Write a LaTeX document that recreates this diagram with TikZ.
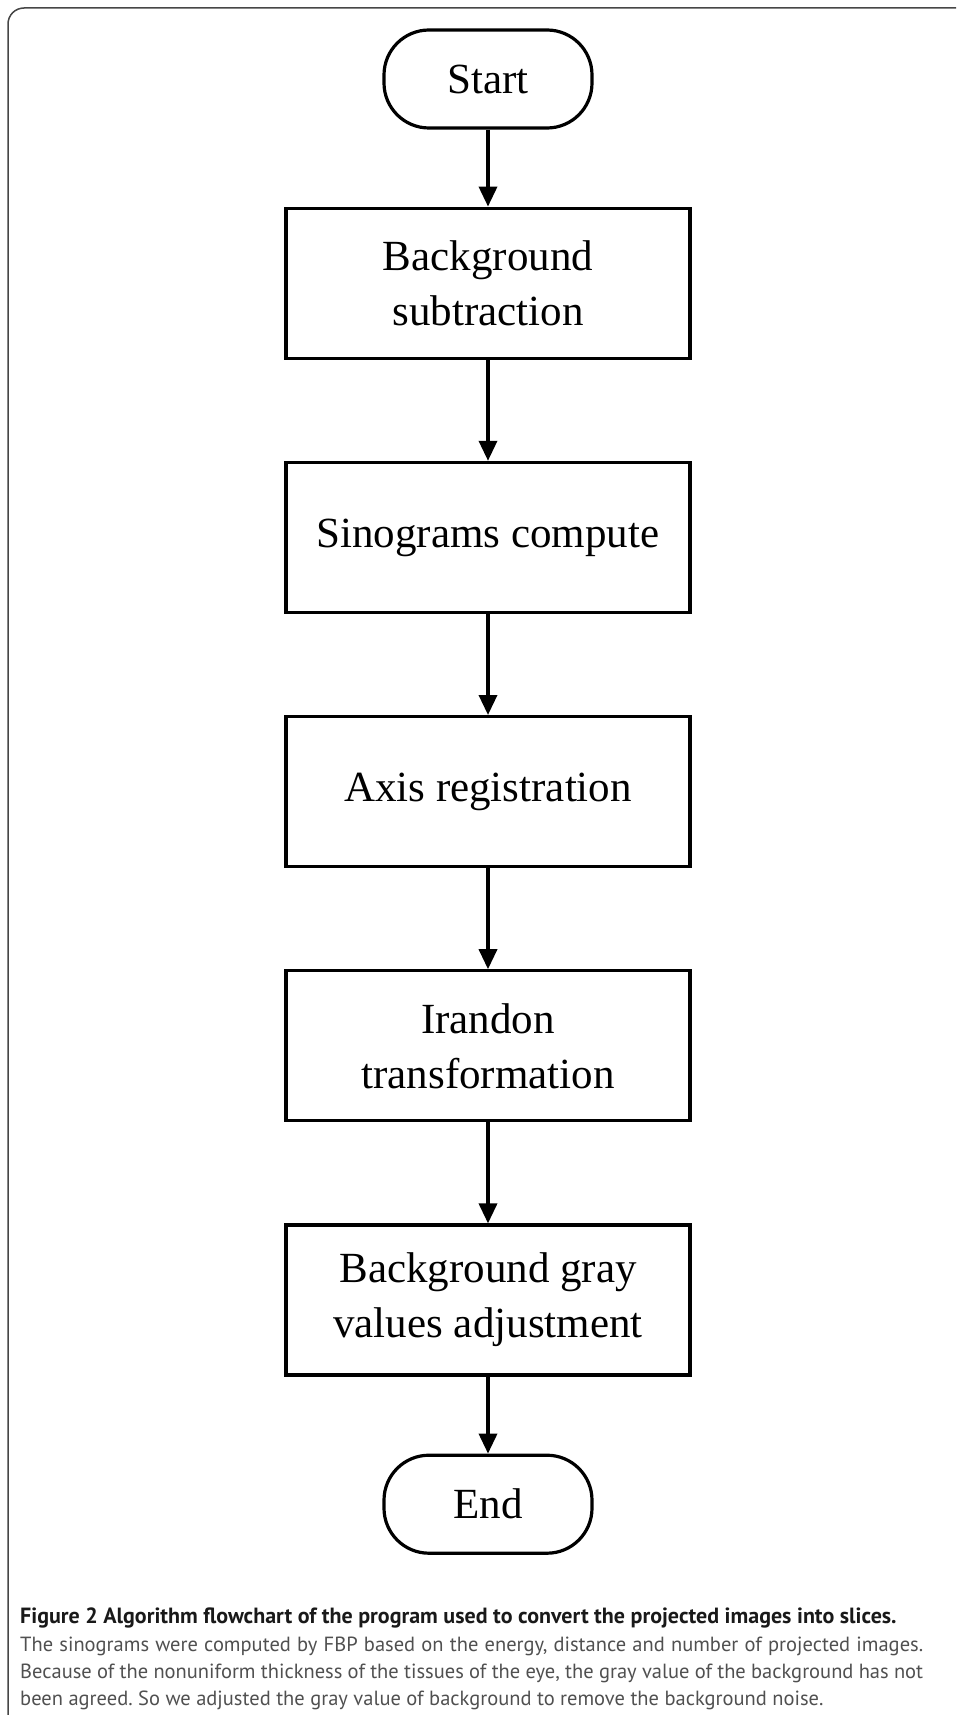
\documentclass[tikz,border=0pt]{standalone}
\usepackage{fontspec}
\setmainfont{Liberation Serif}
\newfontfamily\captionfont{PT Sans}
\usetikzlibrary{arrows.meta, positioning}
\frenchspacing
\definecolor{framegray}{RGB}{70,70,70}
\definecolor{captiongray}{RGB}{80,80,80}
\tikzset{
    startstop/.style={
        rectangle,
        rounded corners=45pt,
        minimum width=208pt,
        minimum height=98pt,
        align=center,
        draw=black,
        line width=3.2pt,
        font=\fontsize{43}{55}\selectfont
    },
    process/.style={
        rectangle,
        minimum width=404pt,
        minimum height=150pt,
        align=center,
        draw=black,
        line width=3.2pt,
        font=\fontsize{43}{55}\selectfont
    },
    arrow/.style={
        line width=3.5pt,
        -{Triangle[length=20pt,width=18pt]}
    }
}
\begin{document}
\begin{tikzpicture}[
    x=1pt, y=-1pt,
    captionhead/.style={anchor=base west, inner sep=0pt, text=black!90,
        font=\captionfont\bfseries\fontsize{22}{27}\selectfont},
    captionbody/.style={anchor=base west, inner sep=0pt, text=captiongray,
        font=\captionfont\fontsize{20.5}{27}\selectfont}
]
\useasboundingbox (0,0) rectangle (956,1715);
% open frame, top and left side only
\draw[framegray, line width=1.5pt, rounded corners=16pt] (956,8) -- (8,8) -- (8,1715);

\node (start) [startstop] at (488,79) {Start};
\node (bgsub) [process, below=77pt of start] {Background\\subtraction};
\node (sino) [process, below=101pt of bgsub] {Sinograms compute};
\node (axis) [process, below=101pt of sino] {Axis registration};
\node (iradon) [process, below=101pt of axis] {Irandon\\transformation};
\node (grayadj) [process, below=101pt of iradon] {Background gray\\values adjustment};
\node (stop) [startstop, below=77pt of grayadj] {End};

\draw [arrow] (start) -- (bgsub);
\draw [arrow] (bgsub) -- (sino);
\draw [arrow] (sino) -- (axis);
\draw [arrow] (axis) -- (iradon);
\draw [arrow] (iradon) -- (grayadj);
\draw [arrow] (grayadj) -- (stop);

% caption (justified lines spread to full width)
\node (cap1) [captionhead] at (20,1623) {Figure 2 Algorithm flowchart of the program used to convert the projected images into slices.};
\node (cap2) [captionbody] at (20,1651) {\makebox[903pt][s]{The sinograms were computed by FBP based on the energy, distance and number of projected images.}};
\node (cap3) [captionbody] at (20,1678) {\makebox[903pt][s]{Because of the nonuniform thickness of the tissues of the eye, the gray value of the background has not}};
\node (cap4) [captionbody] at (20,1705) {been agreed. So we adjusted the gray value of background to remove the background noise.};
\end{tikzpicture}
\end{document}
